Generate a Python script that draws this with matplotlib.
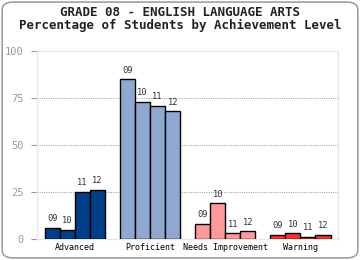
import numpy as np
import matplotlib
matplotlib.use('Agg')
import matplotlib.pyplot as plt
from matplotlib.patches import FancyBboxPatch

categories = ['Advanced', 'Proficient', 'Needs Improvement', 'Warning']
years = ['09', '10', '11', '12']
values = [
	[6, 5, 25, 26],
	[85, 73, 71, 68],
	[8, 19, 3, 4],
	[2, 3, 1, 2],
]
colors = ['#003f87', '#8fa8d0', '#ff9a9a', '#ff3333']
y_ticks = [0, 25, 50, 75, 100]

mono = 'DejaVu Sans Mono'

fig = plt.figure(figsize=(3.6, 2.6), dpi=100)
fig.patch.set_facecolor('white')

# rounded outer frame
frame = FancyBboxPatch((0.006, 0.008), 0.988, 0.984, boxstyle='round,pad=0,rounding_size=0.03',
	transform=fig.transFigure, facecolor='white', edgecolor='#a0a0a0', linewidth=1.2, zorder=-10)
fig.patches.append(frame)

ax = fig.add_axes([0.104, 0.081, 0.835, 0.722])
ax.set_facecolor('none')

bar_w = 0.2
for i, cat in enumerate(categories):
	for j, yr in enumerate(years):
		x = i + 0.1 + j * bar_w + bar_w / 2
		v = values[i][j]
		ax.bar(x, v, width=bar_w, color=colors[i], edgecolor='black', linewidth=1.0, zorder=3)
		ax.text(x, v + 2.5, yr, ha='center', va='bottom', fontsize=6.3, family=mono, color='#333333')

ax.set_xlim(0, 4)
ax.set_ylim(0, 100)
ax.set_xticks([i + 0.5 for i in range(len(categories))])
ax.set_xticklabels(categories, fontsize=6, family=mono, color='black')
ax.tick_params(axis='x', length=0, pad=3)
ax.set_yticks(y_ticks)
ax.set_yticklabels([str(t) for t in y_ticks], fontsize=7.5, family=mono, color='#999999')
ax.tick_params(axis='y', length=4, color='#999999', width=0.8, pad=6)
for t in y_ticks[1:-1]:
	ax.axhline(t, color='#aaaaaa', linestyle=(0, (1, 1)), linewidth=0.8, zorder=1)
for s in ax.spines.values():
	s.set_color('#e8e8e8')
	s.set_linewidth(1.0)

fig.text(0.5, 0.927, 'GRADE 08 - ENGLISH LANGUAGE ARTS\nPercentage of Students by Achievement Level',
	ha='center', va='center', fontsize=9, family=mono, weight='bold', color='#222222',
	linespacing=0.95)

fig.savefig('out.png', dpi=100)
